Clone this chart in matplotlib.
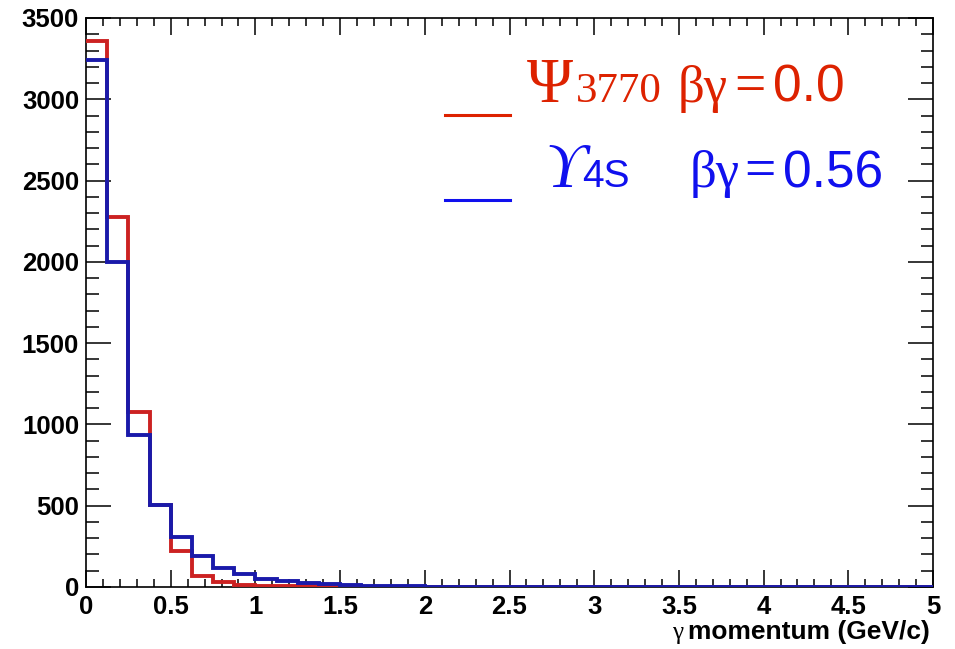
import numpy as np
import matplotlib
matplotlib.use("Agg")
import matplotlib.pyplot as plt
from matplotlib.ticker import MultipleLocator

# ---- data ----
bin_edges = np.linspace(0.0, 5.0, 41)  # 40 bins of 0.125 GeV/c
psi3770 = [3360, 2278, 1074, 506, 222, 68, 33, 14, 9, 6, 4, 3, 2, 1, 1, 0,
           0, 0, 0, 0, 0, 0, 0, 0, 0, 0, 0, 0, 0, 0, 0, 0, 0, 0, 0, 0, 0, 0, 0, 0]
ups4s = [3240, 2000, 932, 506, 305, 191, 117, 78, 49, 36, 27, 19, 13, 9, 6, 4,
         3, 2, 2, 1, 1, 0, 0, 0, 0, 0, 0, 0, 0, 0, 0, 0, 0, 0, 0, 0, 0, 0, 0, 0]
xlabel_sym = "γ"
xlabel_txt = "momentum (GeV/c)"

# ---- figure ----
W, H = 955, 649
fig = plt.figure(figsize=(W / 100, H / 100), dpi=100)
L, R, T, B = 86, 933, 18, 587
ax = fig.add_axes([L / W, 1 - B / H, (R - L) / W, (B - T) / H])

hist_red = "#cc2222"
hist_blue = "#1a1aaa"
ax.stairs(psi3770, bin_edges, color=hist_red, lw=2.8, baseline=None, zorder=3)
ax.stairs(ups4s, bin_edges, color=hist_blue, lw=2.8, baseline=None, zorder=4)

ax.set_xlim(0, 5)
ax.set_ylim(0, 3500)
ax.xaxis.set_major_locator(MultipleLocator(0.5))
ax.xaxis.set_minor_locator(MultipleLocator(0.1))
ax.yaxis.set_major_locator(MultipleLocator(500))
ax.yaxis.set_minor_locator(MultipleLocator(100))

ax.tick_params(axis="both", which="both", direction="in", top=True, right=True,
               width=1.1, colors="black")
ax.tick_params(axis="x", which="major", length=12, pad=6)
ax.tick_params(axis="x", which="minor", length=6)
ax.tick_params(axis="y", which="major", length=18, pad=5)
ax.tick_params(axis="y", which="minor", length=9)

ax.set_xticklabels([f"{v:g}" for v in ax.get_xticks()])
for lab in ax.get_xticklabels() + ax.get_yticklabels():
    lab.set_fontfamily("Liberation Sans")
    lab.set_fontweight("bold")
    lab.set_fontsize(18.5)

for sp in ax.spines.values():
    sp.set_linewidth(1.2)

# x label: thin serif gamma + bold sans text, right aligned
t_main = fig.text(930 / W, 1 - 639 / H, xlabel_txt, ha="right", va="baseline",
                  fontfamily="Liberation Sans", fontweight="bold", fontsize=19)
fig.canvas.draw()
bb = t_main.get_window_extent()
fig.text((bb.x0 - 5) / W, 1 - 639 / H, xlabel_sym, ha="right", va="baseline",
         fontfamily="Liberation Serif", fontsize=18)

# ---- legend (custom ROOT-style text) ----
def axc(px, py):
    return ((px - L) / (R - L), (B - py) / (B - T))

red_t = "#dd2200"
blue_t = "#1010ee"

x0, y0 = axc(445, 115)
x1, _ = axc(510, 115)
ax.plot([x0, x1], [y0, y0], transform=ax.transAxes, color=red_t, lw=2.2, clip_on=False)
x0, y1 = axc(445, 200)
ax.plot([x0, x1], [y1, y1], transform=ax.transAxes, color=blue_t, lw=2.2, clip_on=False)

serif = "Liberation Serif"
sans = "Liberation Sans"

def put(px, py, s, family, size, color, style="normal"):
    x, y = axc(px, py)
    ax.text(x, y, s, transform=ax.transAxes, ha="left", va="baseline",
            fontfamily=family, fontsize=size, color=color, fontstyle=style)

# red row
put(527, 102, "Ψ", serif, 45, red_t)
put(576, 102, "3770", serif, 31, red_t)
put(678, 102, "βγ", serif, 38, red_t)
put(734, 102, "=", serif, 40, red_t)
put(773, 102, "0.0", sans, 37, red_t)

# blue row
put(545, 187, "ϒ", serif, 45, blue_t, style="italic")
put(582, 187, "4S", sans, 28, blue_t)
put(690, 187, "βγ", serif, 38, blue_t)
put(744, 187, "=", serif, 40, blue_t)
put(783, 187, "0.56", sans, 37, blue_t)

fig.savefig("out.png", dpi=100)
